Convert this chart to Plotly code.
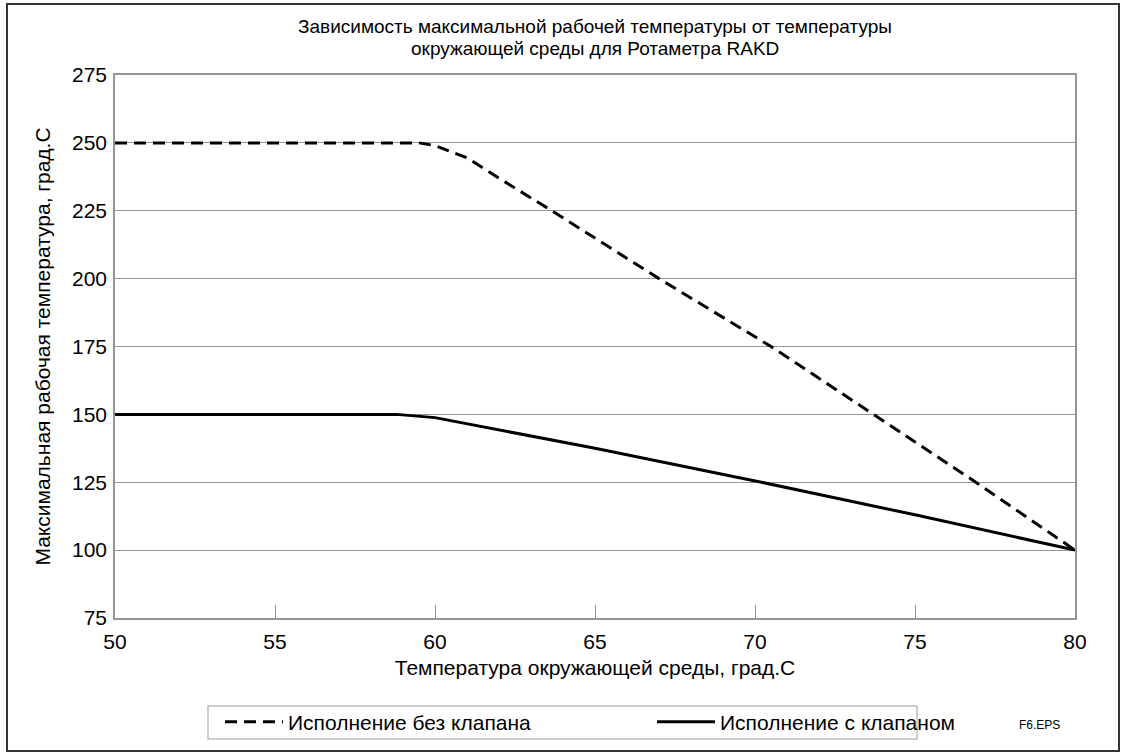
import plotly.graph_objects as go

# Data
x_no_valve = [50, 59.5, 60, 61, 62, 63.65, 67.0, 70.5, 73.7, 76.9, 80]
y_no_valve = [250, 250, 249, 244.5, 237, 225, 200, 175, 150, 125, 100]

x_valve = [50, 58.8, 60, 65, 70.2, 75, 80]
y_valve = [150, 150, 148.8, 137.5, 125, 113, 100]

name_no_valve = "Исполнение без клапана"
name_valve = "Исполнение с клапаном"

x_ticks = [50, 55, 60, 65, 70, 75, 80]
y_ticks = [75, 100, 125, 150, 175, 200, 225, 250, 275]

title_line1 = "Зависимость максимальной рабочей температуры от температуры"
title_line2 = "окружающей среды для Ротаметра RAKD"
x_title = "Температура окружающей среды, град.С"
y_title = "Максимальная рабочая температура, град.С"

FONT = "Liberation Sans, Arial, Helvetica, sans-serif"
GRID = "#959595"

fig = go.Figure()
fig.add_trace(go.Scatter(x=x_no_valve, y=y_no_valve, mode="lines", name=name_no_valve,
                         legend="legend",
                         line=dict(color="black", width=3, dash="12px,7px")))
fig.add_trace(go.Scatter(x=x_valve, y=y_valve, mode="lines", name=name_valve,
                         legend="legend2",
                         line=dict(color="black", width=3)))

W, H = 1125, 755
L, R, T, B = 115, 50, 75, 137
pw, ph = W - L - R, H - T - B


def px(xp):
    return (xp - L) / pw


def py(yp):
    return (H - B - yp) / ph


leg_common = dict(orientation="h", xanchor="left", yanchor="middle",
                  borderwidth=0, bgcolor="rgba(0,0,0,0)", itemwidth=58,
                  font=dict(size=21, family=FONT, color="black"))

fig.update_layout(
    width=W, height=H,
    margin=dict(l=L, r=R, t=T, b=B, autoexpand=False),
    paper_bgcolor="white", plot_bgcolor="white",
    font=dict(family=FONT, color="black", size=21),
    title=dict(text=title_line1, x=px(595), xref="paper", xanchor="center",
               y=1 - 26 / H, yref="container", yanchor="middle",
               font=dict(size=19, family=FONT, color="black")),
    xaxis=dict(range=[50, 80], tickvals=x_ticks, showgrid=False, zeroline=False,
               showline=True, linecolor=GRID, linewidth=1.5, mirror=True,
               ticks="inside", ticklen=13, tickcolor=GRID, tickwidth=1,
               tickfont=dict(size=21), ticklabelstandoff=4,
               title=dict(text=x_title, font=dict(size=21), standoff=8)),
    yaxis=dict(range=[75, 275], tickvals=y_ticks, showgrid=True, gridcolor=GRID,
               gridwidth=1, zeroline=False, showline=True, linecolor=GRID,
               linewidth=1.5, mirror=True, ticks="", tickfont=dict(size=21),
               ticklabelstandoff=2,
               title=dict(text=y_title, font=dict(size=21), standoff=16)),
    legend=dict(x=px(220), y=py(722), **leg_common),
    legend2=dict(x=px(652), y=py(722), **leg_common),
    showlegend=True,
)

fig.add_annotation(text=title_line2, x=px(595), y=py(48), xref="paper", yref="paper",
                   showarrow=False, font=dict(size=19, family=FONT, color="black"),
                   xanchor="center", yanchor="middle")

fig.add_annotation(text="F6.EPS", x=px(1039), y=py(725), xref="paper", yref="paper",
                   showarrow=False, font=dict(size=12, family=FONT, color="black"),
                   xanchor="center", yanchor="middle")

# legend frame
fig.add_shape(type="rect", xref="paper", yref="paper",
              x0=px(208), x1=px(917), y0=py(739), y1=py(706),
              line=dict(color="#bdbdbd", width=1.5), fillcolor="rgba(0,0,0,0)", layer="below")

# outer frame of the picture
fig.add_shape(type="rect", xref="paper", yref="paper",
              x0=px(7), x1=px(1119), y0=py(751), y1=py(4),
              line=dict(color="#333333", width=2), fillcolor="rgba(0,0,0,0)", layer="below")

fig.write_html("out.html", config={"displayModeBar": False},
               post_script="document.body.style.margin='0';")
